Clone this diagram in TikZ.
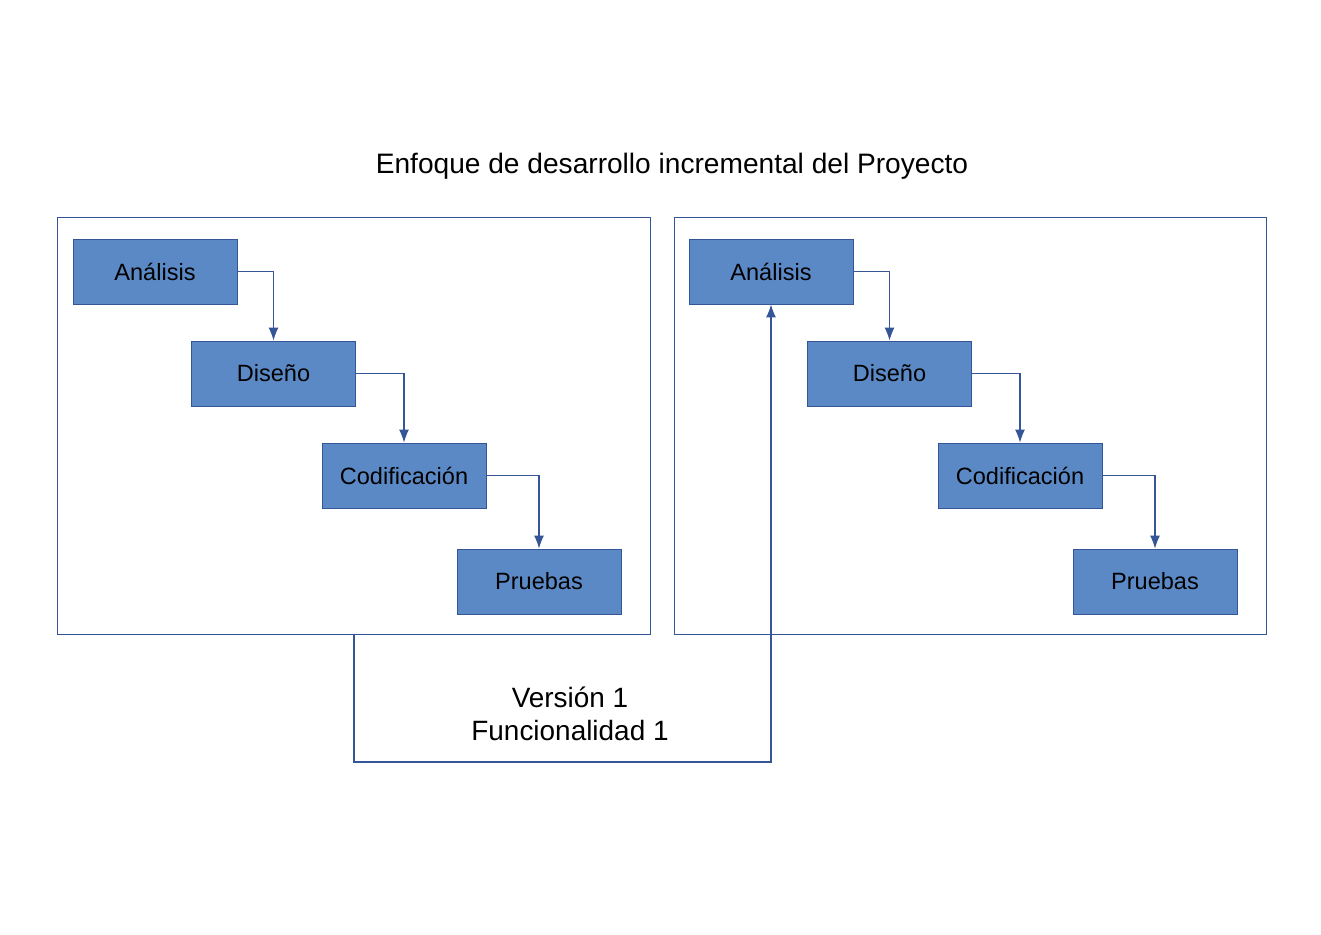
\documentclass[tikz,border=0pt]{standalone}
\usepackage{fontspec}
\setmainfont{Liberation Sans}
\usetikzlibrary{arrows.meta}
\usetikzlibrary{fit}
\definecolor{relleno}{RGB}{91,137,197}
\definecolor{borde}{RGB}{52,86,150}
\tikzstyle{fase} = [rectangle, text centered, draw=borde, fill=relleno, line width=0.5pt, minimum width=3.28cm, minimum height=1.3cm, font=\fontsize{13.4}{16}\selectfont]
\tikzstyle{marco} = [rectangle, draw=borde, line width=0.6pt, inner sep=0pt]
\tikzstyle{flecha} = [draw=borde, line width=0.6pt,-{Latex[length=2.6mm,width=2mm]}]

\begin{document}
\begin{tikzpicture}[node distance=2.04cm]
\useasboundingbox (0,0) rectangle (26.42,-18.68);

\node (titulo) at (13.44,-3.32) {\fontsize{16}{19}\selectfont Enfoque de desarrollo incremental del Proyecto};

% primera version
\node (ana1) [fase] at (3.1,-5.43) {Análisis};
\node (dis1) [fase, below of=ana1, xshift=2.37cm] {Diseño};
\node (cod1) [fase, below of=dis1, xshift=2.61cm] {Codificación};
\node (pru1) [fase, below of=cod1, xshift=2.7cm, yshift=-0.08cm] {Pruebas};
\node (marco1) [marco, fit={([shift={(-0.3,0.42)}]ana1.north west)([shift={(0.58,-0.4)}]pru1.south east)}] {};

% segunda version
\node (ana2) [fase] at (15.42,-5.43) {Análisis};
\node (dis2) [fase, below of=ana2, xshift=2.37cm] {Diseño};
\node (cod2) [fase, below of=dis2, xshift=2.61cm] {Codificación};
\node (pru2) [fase, below of=cod2, xshift=2.7cm, yshift=-0.08cm] {Pruebas};
\node (marco2) [marco, fit={([shift={(-0.28,0.42)}]ana2.north west)([shift={(0.58,-0.4)}]pru2.south east)}] {};

\node (version) [align=center, font=\fontsize{15.9}{18.8}\selectfont] at (11.4,-14.28) {Versión 1\\Funcionalidad 1};

\draw [flecha] (ana1.east) -| (dis1.north);
\draw [flecha] (dis1.east) -| (cod1.north);
\draw [flecha] (cod1.east) -| (pru1.north);
\draw [flecha] (ana2.east) -| (dis2.north);
\draw [flecha] (dis2.east) -| (cod2.north);
\draw [flecha] (cod2.east) -| (pru2.north);
\draw [flecha] (marco1.south) -- ++(0,-2.54) -| (ana2.south);

\end{tikzpicture}
\end{document}
